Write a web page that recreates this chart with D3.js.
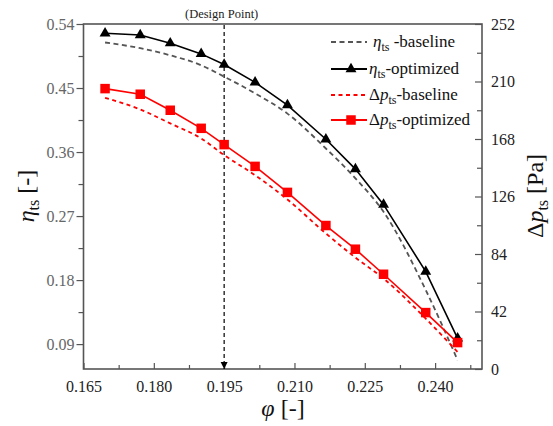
<!DOCTYPE html>
<html>
<head>
<meta charset="utf-8">
<script src="https://cdn.jsdelivr.net/npm/d3@7"></script>
<style>
  body { margin: 0; background: #fff; }
  svg { display: block; font-family: "Liberation Serif", "Times New Roman", serif; }
</style>
</head>
<body>
<script>
// flow coefficient values (shared by all four series)
var phi = [0.1696, 0.1771, 0.1835, 0.1901, 0.1950, 0.2016, 0.2085, 0.2167, 0.2230, 0.2290, 0.2380, 0.2448];
// efficiency
var etaBase = [0.514, 0.506, 0.496, 0.482, 0.466, 0.4425, 0.414, 0.365, 0.323, 0.276, 0.166, 0.0675];
var etaOpt = [0.527, 0.5245, 0.513, 0.498, 0.483, 0.458, 0.426, 0.378, 0.336, 0.286, 0.192, 0.098];
// total-to-static pressure rise [Pa]
var dpBase = [198.1, 189.6, 179.4, 168.4, 156.2, 141.6, 123.8, 99.0, 81.4, 66.1, 36.8, 12.4];
var dpOpt = [204.8, 200.7, 189.0, 175.8, 163.9, 148.0, 129.0, 104.8, 87.5, 69.2, 41.2, 19.3];

var xTicks = [0.165, 0.180, 0.195, 0.210, 0.225, 0.240];
var etaTicks = [0.09, 0.18, 0.27, 0.36, 0.45, 0.54];
var dpTicks = [0, 42, 84, 126, 168, 210, 252];
var designPhi = 0.195;

var W = 553, H = 426;
var margin = { top: 24, right: 71, bottom: 57, left: 83.5 },
  width = W - margin.left - margin.right,
  height = H - margin.top - margin.bottom;

var svg = d3.select('body').append('svg')
  .attr('width', W)
  .attr('height', H);

var g = svg.append('g')
  .attr('transform', 'translate(' + margin.left + ',' + margin.top + ')');

var x = d3.scaleLinear().domain([0.165, 0.25]).range([0, width]);
var yL = d3.scaleLinear().domain([0.055, 0.54]).range([height, 0]);
var yR = d3.scaleLinear().domain([0, 252]).range([height, 0]);

var axisCol = '#555';

// minor ticks first so major ones sit on top
var minorX = xTicks.map(function(t) { return t + 0.0075; });
var minorL = etaTicks.slice(0, -1).map(function(t) { return t + 0.045; });
var minorR = dpTicks.slice(0, -1).map(function(t) { return t + 21; });

g.append('g').attr('class', 'minor')
  .attr('transform', 'translate(0,' + height + ')')
  .call(d3.axisBottom(x).tickValues(minorX).tickSize(-4).tickFormat(''));
g.append('g').attr('class', 'minor')
  .call(d3.axisLeft(yL).tickValues(minorL).tickSize(5).tickFormat(''));
g.append('g').attr('class', 'minor')
  .attr('transform', 'translate(' + width + ',0)')
  .call(d3.axisRight(yR).tickValues(minorR).tickSize(-5).tickFormat(''));

var xAxis = g.append('g')
  .attr('transform', 'translate(0,' + height + ')')
  .call(d3.axisBottom(x).tickValues(xTicks).tickSize(-6).tickPadding(12)
    .tickFormat(d3.format('.3f')));

var lAxis = g.append('g')
  .call(d3.axisLeft(yL).tickValues(etaTicks).tickSize(7).tickPadding(2)
    .tickFormat(d3.format('.2f')));

var rAxis = g.append('g')
  .attr('transform', 'translate(' + width + ',0)')
  .call(d3.axisRight(yR).tickValues(dpTicks).tickSize(-7).tickPadding(9));

g.selectAll('.domain').remove();
g.selectAll('g').attr('font-family', '"Liberation Serif", serif');
g.selectAll('.tick line').attr('stroke', axisCol).attr('stroke-width', 1.2);
g.selectAll('.tick text').attr('font-size', 16);
xAxis.selectAll('.tick text').attr('fill', '#222');
rAxis.selectAll('.tick text').attr('fill', '#222');
lAxis.selectAll('.tick text').attr('fill', '#666');

// frame: left, bottom, right and top lines
g.append('rect')
  .attr('x', 0).attr('y', 0)
  .attr('width', width).attr('height', height)
  .attr('fill', 'none')
  .attr('stroke', axisCol)
  .attr('stroke-width', 1.6);

// design point marker
svg.append('defs').append('marker')
  .attr('id', 'arr')
  .attr('viewBox', '0 0 10 10')
  .attr('refX', 10).attr('refY', 5)
  .attr('markerWidth', 7).attr('markerHeight', 8)
  .attr('markerUnits', 'userSpaceOnUse')
  .attr('orient', 'auto')
  .append('path')
  .attr('d', 'M0,0 L10,5 L0,10 Z')
  .attr('fill', '#000');

g.append('line')
  .attr('x1', x(designPhi)).attr('x2', x(designPhi))
  .attr('y1', 1).attr('y2', height)
  .attr('stroke', '#000')
  .attr('stroke-width', 1.2)
  .attr('stroke-dasharray', '4,3')
  .attr('marker-end', 'url(#arr)');

g.append('text')
  .attr('x', x(designPhi) - 2.5)
  .attr('y', -6)
  .attr('text-anchor', 'middle')
  .attr('font-size', 12.5)
  .attr('fill', '#222')
  .text('(Design Point)');

// lines
var lineL = function(vals) {
  return d3.line()
    .x(function(d, i) { return x(phi[i]); })
    .y(function(d) { return yL(d); })
    .curve(d3.curveMonotoneX)(vals);
};
var lineR = function(vals) {
  return d3.line()
    .x(function(d, i) { return x(phi[i]); })
    .y(function(d) { return yR(d); })
    .curve(d3.curveMonotoneX)(vals);
};

g.append('path')
  .attr('d', lineL(etaBase))
  .attr('fill', 'none')
  .attr('stroke', '#555')
  .attr('stroke-width', 1.8)
  .attr('stroke-dasharray', '5,3.5');

g.append('path')
  .attr('d', lineR(dpBase))
  .attr('fill', 'none')
  .attr('stroke', '#ff0000')
  .attr('stroke-width', 1.8)
  .attr('stroke-dasharray', '4,3.5');

g.append('path')
  .attr('d', d3.line()
    .x(function(d, i) { return x(phi[i]); })
    .y(function(d) { return yL(d); })(etaOpt))
  .attr('fill', 'none')
  .attr('stroke', '#000')
  .attr('stroke-width', 1.6);

g.append('path')
  .attr('d', d3.line()
    .x(function(d, i) { return x(phi[i]); })
    .y(function(d) { return yR(d); })(dpOpt))
  .attr('fill', 'none')
  .attr('stroke', '#ff0000')
  .attr('stroke-width', 1.6);

var tri = d3.symbol().type(d3.symbolTriangle).size(52);

g.selectAll('path.tri')
  .data(etaOpt)
  .enter()
  .append('path')
  .attr('class', 'tri')
  .attr('d', tri)
  .attr('transform', function(d, i) {
    return 'translate(' + x(phi[i]) + ',' + yL(d) + ')';
  })
  .attr('fill', '#000');

g.selectAll('rect.sq')
  .data(dpOpt)
  .enter()
  .append('rect')
  .attr('class', 'sq')
  .attr('x', function(d, i) { return x(phi[i]) - 4.75; })
  .attr('y', function(d) { return yR(d) - 4.75; })
  .attr('width', 9.5)
  .attr('height', 9.5)
  .attr('fill', '#ff0000');

// legend
var legend = [
  { sym: 'η', label: '-baseline', color: '#555', dash: '5,3.5', mark: null, gap: 4 },
  { sym: 'η', label: '-optimized', color: '#000', dash: null, mark: 'tri', gap: 0 },
  { sym: 'Δp', label: '-baseline', color: '#ff0000', dash: '4,3.5', mark: null, gap: 0 },
  { sym: 'Δp', label: '-optimized', color: '#ff0000', dash: null, mark: 'sq', gap: 0 }
];
var legRows = [42, 69, 95, 120];

legend.forEach(function(d, i) {
  var ly = legRows[i];
  var row = svg.append('g');
  row.append('line')
    .attr('x1', 331).attr('x2', 367)
    .attr('y1', ly).attr('y2', ly)
    .attr('stroke', d.color)
    .attr('stroke-width', 1.8)
    .attr('stroke-dasharray', d.dash);
  if (d.mark === 'tri') {
    row.append('path').attr('d', tri)
      .attr('transform', 'translate(351,' + ly + ')')
      .attr('fill', '#000');
  } else if (d.mark === 'sq') {
    row.append('rect')
      .attr('x', 351 - 4.75).attr('y', ly - 4.75)
      .attr('width', 9.5).attr('height', 9.5)
      .attr('fill', '#ff0000');
  }
  var t = row.append('text')
    .attr('x', 369 + d.gap)
    .attr('y', ly + 5)
    .attr('font-size', 17)
    .attr('fill', '#111');
  if (d.sym === 'Δp') {
    t.append('tspan').text('Δ');
    t.append('tspan').attr('font-style', 'italic').text('p');
  } else {
    t.append('tspan').attr('font-style', 'italic').text('η');
  }
  t.append('tspan').attr('font-size', 12).attr('dy', 4).text('ts');
  t.append('tspan').attr('dy', -4).text((d.gap ? ' ' : '') + d.label);
});

// axis titles
var yt = svg.append('text')
  .attr('transform', 'translate(34,196) rotate(-90)')
  .attr('text-anchor', 'middle')
  .attr('font-size', 24)
  .attr('fill', '#111');
yt.append('tspan').attr('font-style', 'italic').text('η');
yt.append('tspan').attr('font-size', 16).attr('dy', 5).text('ts');
yt.append('tspan').attr('dy', -5).text(' [-]');

var rt = svg.append('text')
  .attr('transform', 'translate(543,196) rotate(-90)')
  .attr('text-anchor', 'middle')
  .attr('font-size', 24)
  .attr('fill', '#111');
rt.append('tspan').text('Δ');
rt.append('tspan').attr('font-style', 'italic').text('p');
rt.append('tspan').attr('font-size', 16).attr('dy', 5).text('ts');
rt.append('tspan').attr('dy', -5).text(' [Pa]');

var xt = svg.append('text')
  .attr('x', 283)
  .attr('y', 416)
  .attr('text-anchor', 'middle')
  .attr('font-size', 24)
  .attr('fill', '#111');
xt.append('tspan').attr('font-style', 'italic').text('φ');
xt.append('tspan').text(' [-]');
</script>
</body>
</html>
